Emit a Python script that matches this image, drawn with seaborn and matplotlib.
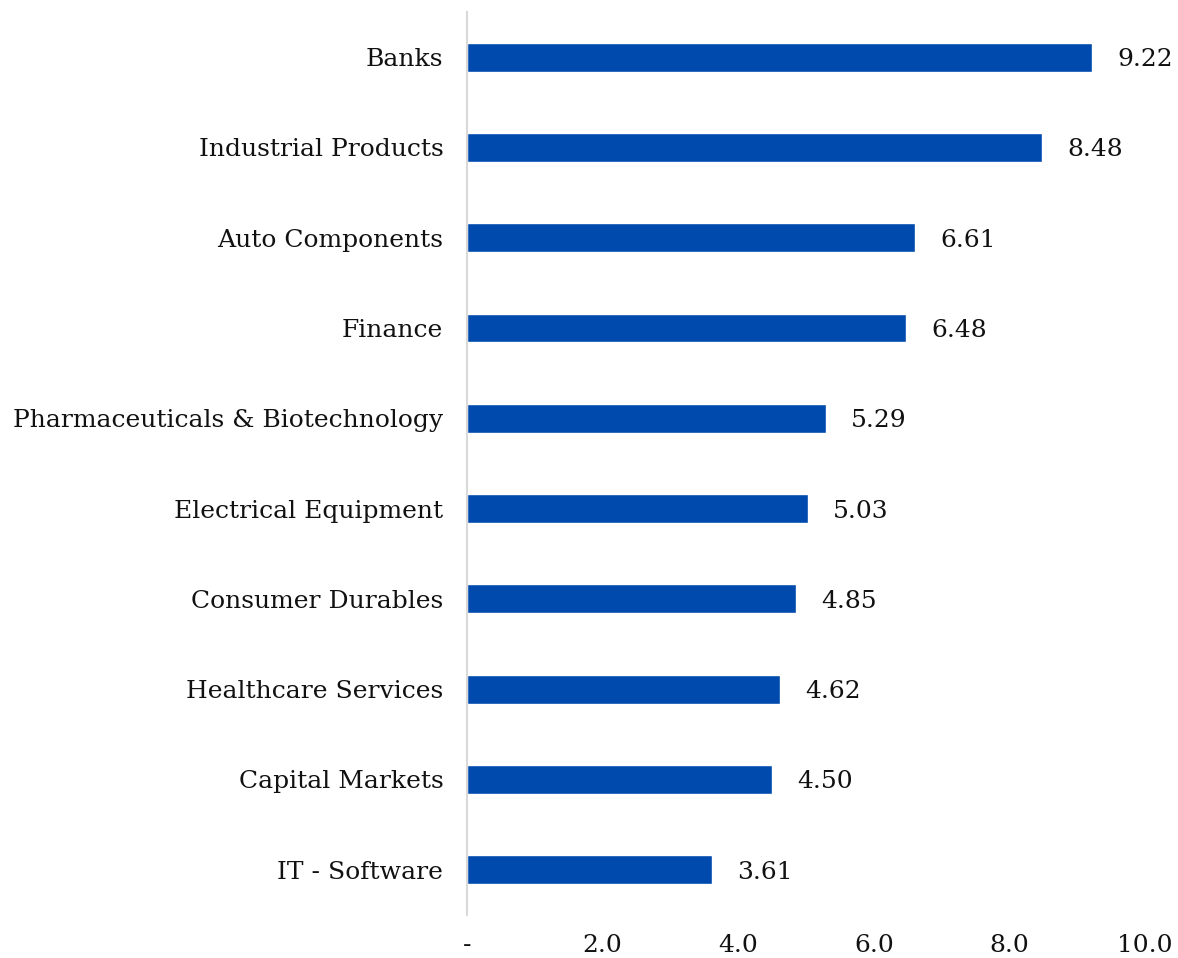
import matplotlib
matplotlib.use("Agg")
import matplotlib.pyplot as plt
import seaborn as sns
import pandas as pd

# ---------------------------
# Data
# ---------------------------
SECTORS = [
    "Banks",
    "Industrial Products",
    "Auto Components",
    "Finance",
    "Pharmaceuticals & Biotechnology",
    "Electrical Equipment",
    "Consumer Durables",
    "Healthcare Services",
    "Capital Markets",
    "IT - Software",
]
WEIGHTS = [9.22, 8.48, 6.61, 6.48, 5.29, 5.03, 4.85, 4.62, 4.50, 3.61]
X_TICKS = [0, 2, 4, 6, 8, 10]
X_TICK_LABELS = ["-", "2.0", "4.0", "6.0", "8.0", "10.0"]

BAR_COLOR = "#004AAD"
FONT_SIZE = 18

sns.set_style("white")
plt.rcParams["font.family"] = ["DejaVu Serif"]

df = pd.DataFrame({"sector": SECTORS, "weight": WEIGHTS})

fig = plt.figure(figsize=(11.78, 9.58), dpi=100)
ax = fig.add_axes([0.3964, 0.045, 0.5756, 0.9425])

sns.barplot(data=df, x="weight", y="sector", color=BAR_COLOR, width=0.32,
            saturation=1, ax=ax)

# value labels to the right of each bar
for i, v in enumerate(WEIGHTS):
    ax.annotate(f"{v:.2f}", xy=(v, i), xytext=(18, 0), textcoords="offset points",
                va="center_baseline", ha="left", fontsize=FONT_SIZE, color="#111111")

ax.set_xlim(0, 10)
ax.set_ylim(len(SECTORS) - 0.5, -0.5)
ax.set_xticks(X_TICKS)
ax.set_xticklabels(X_TICK_LABELS)
ax.set_xlabel("")
ax.set_ylabel("")
ax.tick_params(axis="x", length=0, labelsize=FONT_SIZE, pad=14)
ax.tick_params(axis="y", length=0, labelsize=FONT_SIZE, pad=17)
for lbl in ax.get_xticklabels() + ax.get_yticklabels():
    lbl.set_color("#111111")

for side in ["top", "right", "bottom"]:
    ax.spines[side].set_visible(False)
ax.spines["left"].set_color("#d9d9d9")
ax.spines["left"].set_linewidth(1.5)

fig.savefig("out.png", dpi=100)
